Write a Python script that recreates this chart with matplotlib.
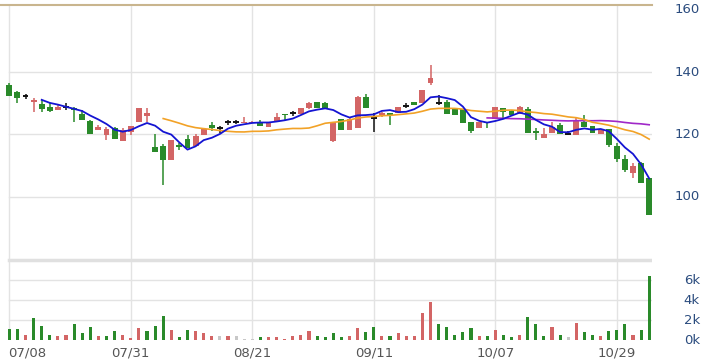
import numpy as np
import pandas as pd
import matplotlib
matplotlib.use("Agg")
import matplotlib.pyplot as plt
from matplotlib import transforms

# daily OHLC (80 sessions)
opens = [135.9, 133.7, 132.4, 130.3, 129.6, 128.9, 127.7, 128.9, 128.6, 126.5,
         124.4, 121.4, 119.8, 122.1, 117.9, 120.7, 123.9, 125.9, 116.0, 116.3,
         111.8, 116.6, 118.4, 116.3, 119.8, 122.9, 122.0, 124.1, 124.1, 123.5,
         123.8, 124.1, 122.5, 124.4, 126.5, 126.8, 126.5, 128.4, 130.5, 130.0,
         117.9, 124.8, 121.4, 122.2, 131.9, 125.2, 126.2, 127.0, 126.8, 129.1,
         130.5, 130.2, 136.4, 130.0, 130.5, 128.1, 128.1, 124.1, 122.0, 124.1,
         124.8, 128.4, 127.6, 126.5, 128.1, 121.1, 118.7, 120.4, 123.0, 120.2,
         119.8, 124.1, 122.7, 120.0, 121.6, 116.3, 112.0, 107.7, 110.7, 105.9]
highs = [136.6, 133.9, 133.0, 131.8, 131.1, 130.1, 129.6, 130.0, 128.8, 127.8,
         124.6, 123.0, 122.5, 122.5, 122.0, 122.8, 128.6, 128.6, 120.1, 116.8,
         118.2, 117.2, 119.8, 120.1, 122.0, 124.1, 122.7, 124.6, 124.6, 125.7,
         124.3, 124.6, 124.1, 127.0, 126.5, 127.6, 128.4, 130.5, 130.5, 130.5,
         124.1, 124.8, 125.2, 132.3, 133.0, 126.8, 127.3, 127.0, 128.7, 130.2,
         130.5, 134.3, 142.3, 132.6, 131.0, 128.1, 128.1, 124.1, 124.1, 124.1,
         128.9, 128.4, 127.9, 129.2, 128.9, 122.0, 122.0, 124.0, 123.7, 121.0,
         125.4, 126.2, 122.7, 121.4, 121.6, 117.1, 113.4, 110.7, 111.2, 105.9]
lows = [132.4, 130.0, 131.4, 127.1, 127.1, 127.1, 127.7, 127.9, 124.1, 124.6,
        120.2, 121.4, 118.2, 118.5, 117.9, 119.8, 123.9, 124.1, 114.2, 103.8,
        111.8, 115.0, 115.5, 116.3, 119.8, 121.2, 120.5, 123.0, 123.4, 123.5,
        123.8, 122.7, 122.5, 124.4, 124.6, 126.0, 126.5, 128.1, 128.4, 128.1,
        117.7, 121.4, 121.4, 122.2, 128.6, 120.9, 125.5, 123.0, 126.8, 128.4,
        129.4, 130.2, 135.9, 129.4, 126.5, 126.3, 123.8, 120.4, 122.0, 122.0,
        124.8, 125.2, 126.2, 126.5, 120.5, 118.2, 118.7, 120.4, 120.2, 119.8,
        119.8, 122.3, 120.4, 120.0, 115.9, 111.2, 108.0, 105.9, 104.3, 94.1]
closes = [132.4, 131.6, 132.4, 131.0, 128.1, 127.5, 128.8, 128.9, 127.7, 124.6,
          120.2, 122.5, 121.7, 118.5, 121.5, 122.8, 128.6, 126.9, 114.2, 111.8,
          118.2, 115.9, 115.5, 119.5, 121.7, 122.0, 122.0, 124.1, 124.1, 124.1,
          124.1, 122.7, 124.1, 125.7, 126.1, 126.8, 128.4, 130.0, 128.4, 128.2,
          124.1, 121.4, 125.0, 131.9, 128.6, 125.2, 127.0, 126.3, 128.7, 129.1,
          129.4, 134.3, 138.0, 130.0, 126.5, 126.3, 123.8, 121.1, 124.1, 123.6,
          128.9, 127.3, 126.2, 128.9, 120.5, 120.4, 120.1, 122.5, 120.2, 120.2,
          124.4, 122.3, 120.4, 121.4, 116.6, 112.1, 108.6, 110.0, 104.5, 94.1]
volume = [1070, 1070, 530, 2170, 1430, 530, 430, 530, 1570, 670,
          1300, 430, 430, 900, 530, 170, 1170, 900, 1430, 2430,
          1030, 300, 1030, 900, 670, 400, 400, 400, 400, 130,
          130, 270, 270, 270, 100, 400, 530, 900, 400, 270,
          670, 270, 400, 1170, 800, 1300, 400, 400, 670, 400,
          400, 2670, 3800, 1570, 1300, 530, 800, 1170, 400, 400,
          1030, 530, 300, 530, 2300, 1570, 400, 1300, 530, 270,
          1670, 800, 530, 400, 900, 1030, 1570, 530, 1030, 6400]

tick_idx = [0, 15, 30, 45, 60, 75]
tick_labels = ["07/08", "07/31", "08/21", "09/11", "10/07", "10/29"]
price_ticks = [100, 120, 140, 160]
vol_ticks = [0, 2000, 4000, 6000]

UP, DOWN, FLAT = "#d36565", "#2a8a2a", "#111111"
GRID = "#e3e3e3"

o = np.array(opens); h = np.array(highs); l = np.array(lows); c = np.array(closes)
x = np.arange(len(c))
col = np.where(c > o, UP, np.where(c < o, DOWN, FLAT))
chg = np.diff(c, prepend=o[0])
vcol = np.where(chg > 0, UP, np.where(chg < 0, DOWN, "#c8c8c8"))

s = pd.Series(c)
ma5 = s.rolling(5).mean()
ma20 = s.rolling(20).mean()
ma60 = s.rolling(60).mean()

W, H = 702, 360
fig = plt.figure(figsize=(7.02, 3.6), dpi=100)
ax = fig.add_axes([0, 1 - 250 / H, 652 / W, 245 / H])
axv = fig.add_axes([0, 1 - 340 / H, 652 / W, 90 / H])

x0 = -9.3 / 8.1
x1 = (652 - 9.3) / 8.1
for a in (ax, axv):
    a.set_xlim(x0, x1)
    for sp in a.spines.values():
        sp.set_visible(False)
    a.set_xticks([])
    a.set_yticks([])
    for t in tick_idx:
        a.axvline(t, color=GRID, lw=1, zorder=0)

ax.set_ylim(100 + (196.7 - 250) / 3.115, 100 + (196.7 - 5) / 3.115)
axv.set_ylim(0, 9000)

xmin_frac = (0 - x0) / (x1 - x0)
for p in price_ticks[:-1]:
    ax.axhline(p, xmin=xmin_frac, color=GRID, lw=1, zorder=0)
ax.axhline(ax.get_ylim()[1], color="#c9b58e", lw=1.5, zorder=1, clip_on=False)
for v in vol_ticks[1:]:
    axv.axhline(v, xmin=xmin_frac, color=GRID, lw=1, zorder=0)
axv.axhline(8000, xmin=xmin_frac, color="#e0e0e0", lw=2.5, zorder=0)

# candles
ax.vlines(x, l, h, colors=col, lw=1.1, zorder=2)
body = np.abs(c - o)
ax.bar(x, np.where(body == 0, 0.001, body), bottom=np.minimum(o, c), width=0.74,
       color=col, zorder=3)
doji = body == 0
ax.hlines(c[doji], x[doji] - 0.37, x[doji] + 0.37, colors=FLAT, lw=1.4, zorder=3)

ax.plot(x, ma60, color="#a028c8", lw=1.2, zorder=4)
ax.plot(x, ma20, color="#f2a227", lw=1.2, zorder=4)
ax.plot(x, ma5, color="#1414d2", lw=1.3, zorder=5)

axv.bar(x, volume, width=0.38, color=vcol, zorder=2)

# labels
lab_col = "#2b4c7e"
tr = transforms.blended_transform_factory(fig.transFigure, ax.transData)
for p in price_ticks:
    ax.text(700 / W, p, str(p), transform=tr, ha="right", va="center",
            fontsize=9.5, color=lab_col)
trv = transforms.blended_transform_factory(fig.transFigure, axv.transData)
for v in vol_ticks:
    axv.text(700 / W, v, f"{v // 1000}k", transform=trv, ha="right", va="center",
             fontsize=9.5, color=lab_col)
trx = transforms.blended_transform_factory(axv.transData, fig.transFigure)
for i, (t, lab) in enumerate(zip(tick_idx, tick_labels)):
    axv.text(t - 0.15 if i == 0 else t, 1 - 352.5 / H, lab, transform=trx,
             ha="left" if i == 0 else "center", va="center",
             fontsize=9.5, color="#555555")

fig.savefig("out.png", dpi=100)
